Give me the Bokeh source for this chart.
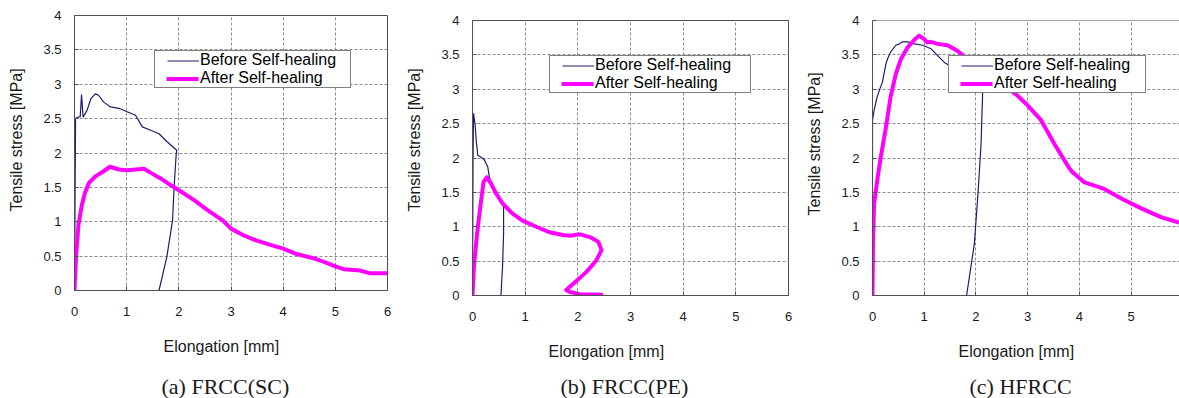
import math
from bokeh.plotting import figure
from bokeh.layouts import row
from bokeh.models import FixedTicker, Legend, LegendItem, Span, Title
from bokeh.embed import file_html
from bokeh.resources import INLINE

# ---------------- data ----------------
x_ticks = [0, 1, 2, 3, 4, 5, 6]
x_tick_labels = ["0", "1", "2", "3", "4", "5", "6"]
y_ticks = [0, 0.5, 1, 1.5, 2, 2.5, 3, 3.5, 4]
y_tick_labels = ["0", "0.5", "1", "1.5", "2", "2.5", "3", "3.5", "4"]

series_names = ["Before Self-healing", "After Self-healing"]
captions = ["(a) FRCC(SC)", "(b) FRCC(PE)", "(c) HFRCC"]
x_title = "Elongation [mm]"
y_title = "Tensile stress [MPa]"

a_before_x = [0, 0.02, 0.06, 0.11, 0.135, 0.165, 0.24, 0.315, 0.40, 0.46, 0.56, 0.69,
              0.85, 1.01, 1.17, 1.30, 1.46, 1.62, 1.78, 1.96, 1.95, 1.91, 1.88, 1.77, 1.62]
a_before_y = [0, 2.50, 2.52, 2.53, 2.85, 2.52, 2.62, 2.79, 2.86, 2.84, 2.74, 2.67,
              2.65, 2.60, 2.55, 2.38, 2.33, 2.28, 2.16, 2.04, 1.99, 1.51, 1.02, 0.49, 0]

a_after_x = [0, 0.03, 0.075, 0.14, 0.20, 0.28, 0.40, 0.53, 0.68, 0.85, 1.01, 1.17, 1.33,
             1.49, 1.65, 1.85, 2.04, 2.30, 2.55, 2.84, 3.0, 3.22, 3.48, 3.77, 4.0, 4.26,
             4.58, 4.77, 5.0, 5.16, 5.48, 5.67, 6.0]
a_after_y = [0, 0.50, 0.95, 1.24, 1.42, 1.57, 1.66, 1.72, 1.80, 1.76, 1.75, 1.76, 1.77,
             1.70, 1.63, 1.53, 1.44, 1.31, 1.17, 1.02, 0.90, 0.81, 0.73, 0.66, 0.61, 0.53,
             0.47, 0.42, 0.35, 0.31, 0.29, 0.25, 0.25]

b_before_x = [0, 0.01, 0.02, 0.05, 0.07, 0.10, 0.16, 0.22, 0.29, 0.32, 0.38, 0.48, 0.54,
              0.59, 0.59, 0.57, 0.54]
b_before_y = [0, 2.00, 2.65, 2.48, 2.26, 2.04, 2.01, 1.98, 1.87, 1.72, 1.58, 1.48, 1.38,
              1.29, 0.90, 0.41, 0]

b_after_x = [0, 0.03, 0.09, 0.15, 0.21, 0.27, 0.35, 0.45, 0.57, 0.76, 0.95, 1.21, 1.46,
             1.72, 1.85, 2.04, 2.23, 2.39, 2.45, 2.35, 2.16, 1.94, 1.78, 1.85, 2.04, 2.48]
b_after_y = [0, 0.45, 0.92, 1.30, 1.65, 1.72, 1.63, 1.48, 1.34, 1.19, 1.09, 1.00, 0.92,
             0.88, 0.87, 0.89, 0.85, 0.78, 0.66, 0.51, 0.34, 0.19, 0.08, 0.05, 0.02, 0.01]

c_before_x = [0, 0.0, 0.03, 0.08, 0.13, 0.19, 0.26, 0.29, 0.35, 0.45, 0.52, 0.58, 0.68,
              0.81, 0.97, 1.13, 1.26, 1.39, 1.48, 1.70, 1.95, 2.10, 2.13, 2.10, 2.04, 1.97, 1.82]
c_before_y = [0, 2.55, 2.69, 2.86, 2.98, 3.10, 3.37, 3.44, 3.54, 3.64, 3.66, 3.69, 3.69,
              3.66, 3.64, 3.59, 3.49, 3.39, 3.35, 3.28, 3.20, 3.10, 2.93, 2.21, 1.48, 0.75, 0]

c_after_x = [0, 0.01, 0.03, 0.10, 0.16, 0.26, 0.35, 0.45, 0.55, 0.68, 0.81, 0.90, 1.00,
             1.06, 1.13, 1.26, 1.45, 1.64, 1.84, 2.0, 2.3, 2.6, 2.77, 2.97, 3.26, 3.53,
             3.80, 3.86, 4.09, 4.48, 4.84, 5.22, 5.58, 5.93]
c_after_y = [0, 0.75, 1.33, 1.72, 2.01, 2.45, 2.89, 3.22, 3.44, 3.61, 3.72, 3.78, 3.73,
             3.68, 3.69, 3.66, 3.64, 3.56, 3.44, 3.36, 3.20, 3.02, 2.93, 2.79, 2.55, 2.19,
             1.86, 1.80, 1.65, 1.55, 1.40, 1.26, 1.14, 1.06]

# ---------------- style ----------------
BEFORE_COLOR = "#1c1c72"
AFTER_COLOR = "#ff00ff"
AXIS_COLOR = "#505050"
GRID_COLOR = "#8c8c8c"
SANS = "Liberation Sans"
SERIF = "Liberation Serif"
H = 398
NAN = float("nan")

panels = [
    dict(data=(a_before_x, a_before_y, a_after_x, a_after_y), caption=captions[0],
         width=400, mbl=74, mbr=13, mbt=15, mbb=108, xend=6, outline=True,
         leg=(80, 202, 150), yoff=79, xoff=89, xs=39, xva="top", coff=87, cs=-10),
    dict(data=(b_before_x, b_before_y, b_after_x, b_after_y), caption=captions[1],
         width=400, mbl=72, mbr=12, mbt=20, mbb=103, xend=6, outline=True,
         leg=(77, 202, 155), yoff=84, xoff=76, xs=34, xva="bottom", coff=88, cs=-10),
    dict(data=(c_before_x, c_before_y, c_after_x, c_after_y), caption=captions[2],
         width=379, mbl=72, mbr=0, mbt=20, mbb=103, xend=307 / 51.7, outline=False,
         leg=(76, 202, 151), yoff=80, xoff=86, xs=34, xva="bottom", coff=97, cs=-10),
]


def make_title(text, font, size, offset, standoff, valign):
    kw = dict(text=text, align="left", offset=offset, vertical_align=valign,
              text_font=font, text_font_size=size, text_font_style="normal",
              text_color="#1a1a1a")
    try:
        return Title(standoff=standoff, **kw)
    except ValueError:
        return Title(standoff=0, **kw)


def make_legend(items, lx, ly, lw):
    return Legend(items=items, location=(lx, ly), margin=0, padding=0, spacing=0,
                  glyph_width=44, glyph_height=17, label_height=17, label_width=lw,
                  label_standoff=1, label_text_font=SANS, label_text_font_size="16px",
                  label_text_line_height=1.05, label_text_color="black",
                  border_line_color="black", border_line_width=1,
                  background_fill_color="white", background_fill_alpha=1.0)


figs = []
for cfg in panels:
    bx, by, ax, ay = cfg["data"]
    p = figure(width=cfg["width"], height=H, x_range=(0, cfg["xend"]), y_range=(0, 4),
               output_backend="svg", toolbar_location=None,
               min_border_left=cfg["mbl"], min_border_right=cfg["mbr"],
               min_border_top=cfg["mbt"], min_border_bottom=cfg["mbb"])
    if "frame_align" in p.properties():
        p.frame_align = False
    p.title.visible = False
    p.background_fill_color = "white"
    p.border_fill_color = "white"
    p.outline_line_color = AXIS_COLOR if cfg["outline"] else None

    for axis, ticks, labels, standoff in ((p.xaxis, x_ticks, x_tick_labels, 16),
                                          (p.yaxis, y_ticks, y_tick_labels, 13)):
        axis.ticker = FixedTicker(ticks=ticks)
        axis.major_label_overrides = {t: l for t, l in zip(ticks, labels)}
        axis.major_tick_in = 4
        axis.major_tick_out = 0
        axis.minor_tick_in = 0
        axis.minor_tick_out = 0
        axis.axis_line_color = AXIS_COLOR
        axis.major_tick_line_color = AXIS_COLOR
        axis.major_label_text_font = SANS
        axis.major_label_text_font_size = "13px"
        axis.major_label_text_color = "#1a1a1a"
        axis.major_label_standoff = standoff
    # blank spacer label: keeps room between tick labels and the y title
    p.yaxis.axis_label = " "
    p.yaxis.axis_label_text_font_size = "1px"
    p.yaxis.axis_label_standoff = 10

    p.xgrid.ticker = FixedTicker(ticks=x_ticks)
    p.ygrid.ticker = FixedTicker(ticks=y_ticks)
    for g in (p.xgrid, p.ygrid):
        g.grid_line_color = GRID_COLOR
        g.grid_line_dash = "3 2"
        g.grid_line_width = 1

    if not cfg["outline"]:
        p.add_layout(Span(location=4, dimension="width", line_color=AXIS_COLOR, line_width=1))

    p.line(bx, by, line_color=BEFORE_COLOR, line_width=1.2)
    p.line(ax, ay, line_color=AFTER_COLOR, line_width=4, line_join="round")

    # legend swatches: helper renderers (no visible data) whose dash pattern leaves
    # the blank lead-in seen in the original legend
    lb = p.line([NAN], [NAN], line_color=BEFORE_COLOR, line_width=1.2, line_dash="0 12 32 1000")
    la = p.line([NAN], [NAN], line_color=AFTER_COLOR, line_width=4, line_dash="0 11 32 1000")
    lx, ly, lw = cfg["leg"]
    p.add_layout(make_legend([LegendItem(label=series_names[0], renderers=[lb]),
                              LegendItem(label=series_names[1], renderers=[la])],
                             lx, ly, lw))

    p.add_layout(make_title(y_title, SANS, "16px", cfg["yoff"], 0, "top"), "left")
    p.add_layout(make_title(x_title, SANS, "16px", cfg["xoff"], cfg["xs"], cfg["xva"]), "below")
    p.add_layout(make_title(cfg["caption"], SERIF, "22px", cfg["coff"], cfg["cs"], "bottom"), "below")
    figs.append(p)

layout = row(*figs, spacing=0)
open("out.html", "w").write(file_html(layout, INLINE))
